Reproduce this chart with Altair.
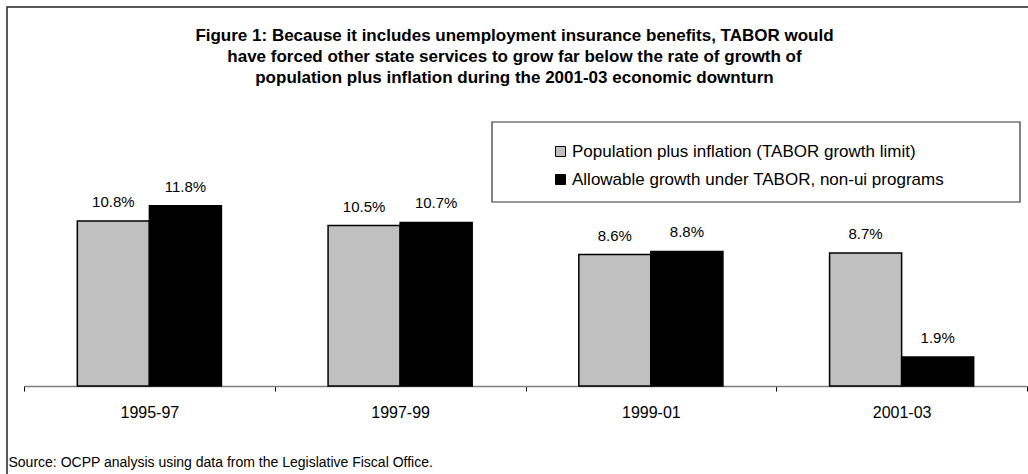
import altair as alt
import pandas as pd

periods = ["1995-97", "1997-99", "1999-01", "2001-03"]
series_names = [
    "Population plus inflation (TABOR growth limit)",
    "Allowable growth under TABOR, non-ui programs",
]
pop_plus_inflation = [10.8, 10.5, 8.6, 8.7]
allowable_growth = [11.8, 10.7, 8.8, 1.9]
series_colors = ["#C0C0C0", "#000000"]

title_lines = [
    "Figure 1: Because it includes unemployment insurance benefits, TABOR would",
    "have forced other state services to grow far below the rate of growth of",
    "population plus inflation during the 2001-03 economic downturn",
]
source_text = "Source: OCPP analysis using data from the Legislative Fiscal Office."

rows = []
for i, p in enumerate(periods):
    rows.append({"period": p, "series": series_names[0], "value": pop_plus_inflation[i]})
    rows.append({"period": p, "series": series_names[1], "value": allowable_growth[i]})
df = pd.DataFrame(rows)
df["label"] = df["value"].map(lambda v: f"{v:.1f}%")

FONT = "Liberation Sans"
W, H = 1003, 214
PAD_L, PAD_T = 24, 172

x_enc = alt.X(
    "period:N",
    sort=periods,
    scale=alt.Scale(paddingInner=0, paddingOuter=0),
    axis=alt.Axis(
        title=source_text,
        titleFont=FONT,
        titleFontSize=14,
        titleFontWeight="normal",
        titleColor="black",
        titleAnchor="start",
        titleAlign="left",
        titleBaseline="middle",
        titleX=-16,
        titleY=76,
        labelAngle=0,
        labelFont=FONT,
        labelFontSize=16,
        labelColor="black",
        labelPadding=13,
        tickBand="extent",
        tickSize=5,
        tickColor="black",
        domainColor="#808080",
        domainWidth=1.5,
    ),
)
xoff_enc = alt.XOffset(
    "series:N", sort=series_names, scale=alt.Scale(paddingInner=0, paddingOuter=0.74)
)
y_enc = alt.Y("value:Q", scale=alt.Scale(domain=[0, 14]), axis=None)

frame = alt.Chart(alt.Data(values=[{}])).mark_rect(
    fillOpacity=0, stroke="#222222", strokeWidth=1.5
).encode(
    x=alt.value(7 - PAD_L), x2=alt.value(W + 20),
    y=alt.value(7 - PAD_T), y2=alt.value(H + 120),
)

legend_box = alt.Chart(alt.Data(values=[{}])).mark_rect(
    fill="white", stroke="#333333", strokeWidth=1.2
).encode(
    x=alt.value(492 - PAD_L), x2=alt.value(1020 - PAD_L),
    y=alt.value(122 - PAD_T), y2=alt.value(202 - PAD_T),
)

bars = alt.Chart(df).mark_bar(stroke="black", strokeWidth=1.5).encode(
    x=x_enc,
    xOffset=xoff_enc,
    y=y_enc,
    color=alt.Color(
        "series:N",
        sort=series_names,
        scale=alt.Scale(domain=series_names, range=series_colors),
        legend=alt.Legend(
            title=None,
            orient="none",
            legendX=552 - PAD_L,
            legendY=143 - PAD_T,
            direction="vertical",
            symbolType="square",
            symbolSize=100,
            symbolStrokeColor="black",
            symbolStrokeWidth=1,
            labelFont=FONT,
            labelFontSize=17,
            labelColor="black",
            labelLimit=0,
            labelOffset=3,
            rowPadding=10,
            padding=0,
        ),
    ),
)

labels = alt.Chart(df).mark_text(
    font=FONT, fontSize=15, color="black", baseline="alphabetic", dy=-14
).encode(
    x=alt.X("period:N", sort=periods),
    xOffset=alt.XOffset("series:N", sort=series_names),
    y=alt.Y("value:Q"),
    text="label:N",
)

chart = alt.layer(frame, legend_box, bars, labels).properties(
    width=W,
    height=H,
    padding={"left": PAD_L, "top": PAD_T, "right": 1, "bottom": 474 - PAD_T - H},
    autosize=alt.AutoSizeParams(type="none"),
    title=alt.Title(
        text=title_lines,
        font=FONT,
        fontSize=17,
        fontWeight="bold",
        color="black",
        anchor="middle",
        frame="group",
        lineHeight=21,
        offset=-81,
        dx=-11,
    ),
).configure_view(stroke=None)

chart.save("out.html", embed_options={"renderer": "svg", "actions": False})
